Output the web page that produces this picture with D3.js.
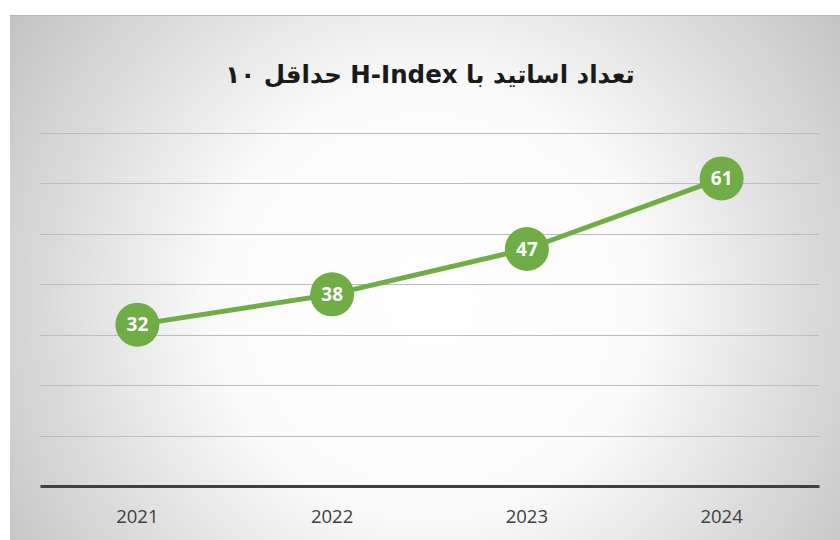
<!DOCTYPE html>
<html><head><meta charset="utf-8">
<script src="https://cdn.jsdelivr.net/npm/d3@7/dist/d3.min.js"></script>
<style>html,body{margin:0;padding:0;background:#fff;}svg{display:block;}</style>
</head><body>
<svg id="c" width="840" height="540"></svg>
<script>
const years = ["2021", "2022", "2023", "2024"];
const values = [32, 38, 47, 61];
const yTicks = [0, 10, 20, 30, 40, 50, 60, 70];
const title = "تعداد اساتید با H-Index حداقل ۱۰";

(function () {
const svg = d3.select("#c");
const defs = svg.append("defs");
const g = defs.append("radialGradient").attr("id", "bg")
  .attr("gradientUnits", "userSpaceOnUse")
  .attr("cx", 430).attr("cy", 300).attr("r", 540);
g.append("stop").attr("offset", "0").attr("stop-color", "#ffffff");
g.append("stop").attr("offset", "0.4").attr("stop-color", "#fafafa");
g.append("stop").attr("offset", "1").attr("stop-color", "#bcbcbc");

svg.append("rect").attr("x", 10).attr("y", 15).attr("width", 840).attr("height", 540).attr("fill", "url(#bg)");
svg.append("line").attr("x1", 10).attr("x2", 840).attr("y1", 15.5).attr("y2", 15.5).attr("stroke", "#b5b5b5").attr("stroke-width", 1);

const mLeft = 40, mRight = 819, mTop = 133, mBottom = 486;
const x = d3.scaleBand().domain(years).range([mLeft, mRight]);
const y = d3.scaleLinear().domain([0, 70]).range([mBottom, mTop]);

svg.append("g").selectAll("line").data(yTicks.filter(d => d > 0)).join("line")
  .attr("x1", mLeft).attr("x2", mRight)
  .attr("y1", d => Math.round(y(d)) + 0.5).attr("y2", d => Math.round(y(d)) + 0.5)
  .attr("stroke", "#bdbdbd").attr("stroke-width", 1);

const xAxis = svg.append("g").attr("transform", `translate(0,${mBottom})`)
  .call(d3.axisBottom(x).tickSize(0).tickPadding(24));
xAxis.select(".domain").attr("stroke", "#404040").attr("stroke-width", 3);
xAxis.selectAll("text").attr("font-family", "'Open Sans', 'Noto Sans', sans-serif")
  .attr("font-size", 18.5).attr("fill", "#404040");

const cx = d => x(d) + x.bandwidth() / 2;
const line = d3.line().x((d, i) => cx(years[i])).y(d => y(d));
svg.append("path").datum(values).attr("d", line)
  .attr("fill", "none").attr("stroke", "#70ad47").attr("stroke-width", 5).attr("stroke-linejoin", "round");

const pts = svg.append("g").selectAll("g").data(values).join("g")
  .attr("transform", (d, i) => `translate(${cx(years[i])},${y(d)})`);
pts.append("circle").attr("r", 22).attr("fill", "#70ad47");
pts.append("text").text(d => d).attr("text-anchor", "middle").attr("dy", "0.36em")
  .attr("font-family", "'Open Sans', 'Noto Sans', sans-serif").attr("font-weight", "bold")
  .attr("font-size", 19).attr("fill", "#ffffff");

svg.append("text").text(title).attr("x", 430).attr("y", 83)
  .attr("direction", "rtl").attr("text-anchor", "middle")
  .attr("font-family", "'DejaVu Sans', 'Noto Sans', sans-serif").attr("font-weight", "bold")
  .attr("font-size", 24.5).attr("fill", "#1a1a1a");
})();
</script>
</body></html>
